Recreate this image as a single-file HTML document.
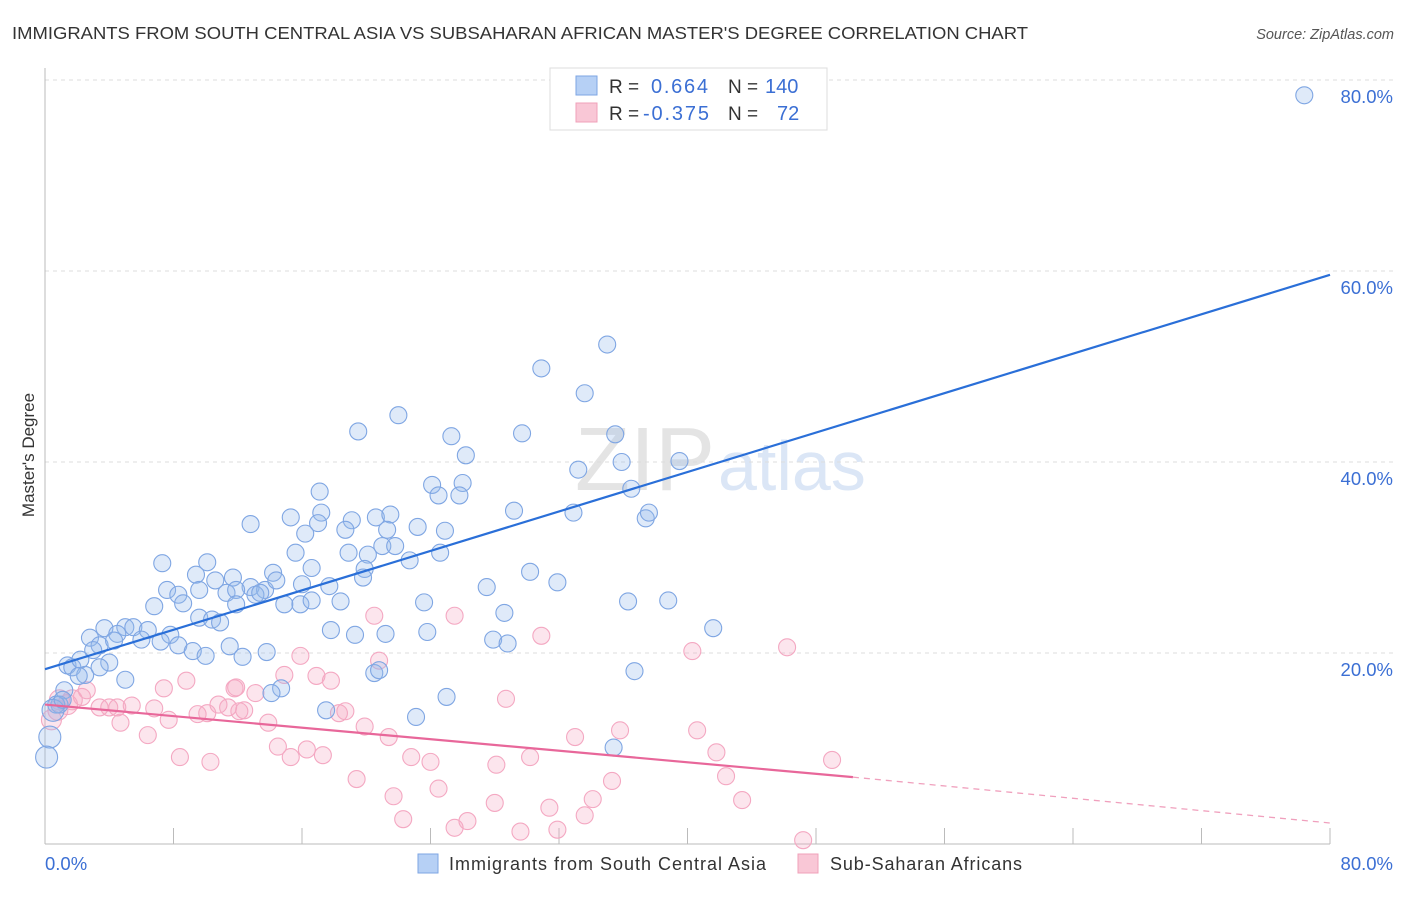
<!DOCTYPE html>
<html><head><meta charset="utf-8"><style>
body{margin:0;background:#fff;font-family:"Liberation Sans",sans-serif;}
svg text{font-family:"Liberation Sans",sans-serif;}
</style></head><body>
<svg id="chart" width="1406" height="892" xmlns="http://www.w3.org/2000/svg">
<text x="12" y="39" font-size="17.5" fill="#333" textLength="1016" lengthAdjust="spacingAndGlyphs">IMMIGRANTS FROM SOUTH CENTRAL ASIA VS SUBSAHARAN AFRICAN MASTER'S DEGREE CORRELATION CHART</text>
<text x="1394" y="39" font-size="14.5" fill="#555" font-style="italic" text-anchor="end">Source: ZipAtlas.com</text>
<text x="715" y="490" font-size="90" fill="#e4e4e4" text-anchor="end" font-family="Liberation Serif">ZIP</text>
<text x="718" y="490" font-size="70" fill="#dbe6f6">atlas</text>
<g id="grid"></g>
<g id="marks"></g>
<text x="34" y="455" font-size="17" fill="#333" text-anchor="middle" transform="rotate(-90 34 455)">Master's Degree</text>
<g>
<rect x="550" y="68" width="277" height="62" fill="#fff" stroke="#ddd"/>
<rect x="576" y="76" width="21" height="19" fill="#b6d0f5" stroke="#7ea6e3"/>
<rect x="576" y="103" width="21" height="19" fill="#f9c7d6" stroke="#f0a0b9"/>
<text x="609" y="93" font-size="19" fill="#333">R = </text>
<text x="651" y="93" font-size="20" fill="#3b6fd4" textLength="57">0.664</text>
<text x="728" y="93" font-size="19" fill="#333">N = </text>
<text x="765" y="93" font-size="20" fill="#3b6fd4">140</text>
<text x="609" y="120" font-size="19" fill="#333">R = </text>
<text x="643" y="120" font-size="20" fill="#3b6fd4" textLength="66">-0.375</text>
<text x="728" y="120" font-size="19" fill="#333">N = </text>
<text x="777" y="120" font-size="20" fill="#3b6fd4">72</text>
</g>
<g>
<rect x="418" y="854" width="20" height="19" fill="#b6d0f5" stroke="#7ea6e3"/>
<text x="449" y="870" font-size="18" fill="#333" textLength="317">Immigrants from South Central Asia</text>
<rect x="798" y="854" width="20" height="19" fill="#f9c7d6" stroke="#f0a0b9"/>
<text x="830" y="870" font-size="18" fill="#333" textLength="192">Sub-Saharan Africans</text>
</g>
</svg>
<script>
const blueX=[78.4,35.0,30.9,33.6,22.0,19.5,25.3,29.7,35.5,26.2,39.5,35.9,33.2,24.1,26.0,17.1,24.5,25.8,36.5,29.2,32.9,37.4,37.6,12.8,15.3,17.2,17.0,19.1,20.6,21.5,16.2,18.7,21.3,23.2,24.9,15.6,18.9,20.1,21.0,21.8,22.7,24.6,7.3,10.1,16.6,19.9,19.8,14.2,30.2,31.9,27.5,9.4,10.6,11.7,12.8,13.7,14.4,7.6,8.3,8.6,9.6,11.3,11.9,13.1,13.4,16.0,17.7,6.8,11.9,14.9,15.9,16.6,18.4,23.6,28.6,36.3,38.8,9.6,10.4,10.9,3.7,5.0,5.5,6.4,7.8,4.5,2.8,3.4,4.3,6.0,7.2,8.3,9.2,10.0,11.5,13.8,12.3,17.8,19.3,21.2,23.8,27.9,28.8,41.6,1.4,1.7,2.2,3.0,4.0,3.4,2.5,2.1,5.0,1.2,0.9,0.7,36.7,20.5,20.8,14.7,14.1,25.0,17.5,23.1,35.4,0.3,0.1,0.5,1.1];
const blueY=[78.4,52.3,49.8,47.2,44.9,43.2,42.7,43.0,42.9,40.7,40.1,40.0,39.2,37.6,37.8,36.9,36.5,36.5,37.2,34.9,34.7,34.1,34.7,33.5,34.2,34.7,33.6,33.9,34.2,34.5,32.5,32.9,32.9,33.2,32.8,30.5,30.5,30.3,31.2,31.2,29.7,30.5,29.4,29.5,28.9,28.8,27.9,28.4,28.5,27.4,26.9,28.2,27.6,27.9,26.9,26.6,27.6,26.6,26.1,25.2,26.6,26.3,26.6,26.1,26.3,27.2,27.0,24.9,25.1,25.1,25.1,25.5,25.4,25.3,24.2,25.4,25.5,23.7,23.5,23.2,22.6,22.7,22.7,22.4,21.9,22.0,21.6,20.8,21.3,21.4,21.2,20.8,20.2,19.7,20.7,20.1,19.6,22.4,21.9,22.0,22.2,21.4,21.0,22.6,18.7,18.5,19.3,20.3,19.0,18.5,17.7,17.6,17.2,16.1,14.6,14.6,18.1,17.9,18.2,16.3,15.8,15.4,14.0,13.3,10.1,11.2,9.1,14.0,15.1];
const pinkX=[0.9,0.8,0.4,2.6,2.3,1.7,1.4,3.4,4.5,4.0,5.4,4.7,6.4,7.4,8.8,9.5,10.1,10.8,11.4,12.1,11.8,13.1,11.9,12.4,6.8,7.7,8.4,10.3,13.9,14.5,15.3,15.9,14.9,16.3,16.9,17.3,17.8,18.3,18.7,19.9,20.5,20.8,19.4,21.4,21.7,22.3,22.8,24.0,24.5,25.5,26.3,28.0,28.1,28.7,30.2,29.6,30.9,31.4,31.9,33.0,33.6,34.1,35.3,35.8,40.3,40.6,41.8,42.4,43.4,46.2,47.2,49.0,25.5];
const pinkY=[15.1,14.0,13.0,16.1,15.4,15.1,14.6,14.3,14.3,14.3,14.5,12.7,11.4,16.3,17.1,13.6,13.7,14.6,14.3,13.9,16.3,15.8,16.4,14.0,14.2,13.0,9.1,8.6,12.7,10.2,9.1,19.7,17.7,9.9,17.6,9.3,17.1,13.7,13.9,12.3,23.9,19.2,6.8,11.2,5.0,2.6,9.1,8.6,5.8,1.7,2.4,4.3,8.3,15.2,9.1,1.3,21.8,3.8,1.5,11.2,3.0,4.7,6.6,11.9,20.2,11.9,9.6,7.1,4.6,20.6,0.4,8.8,23.9];
const blueTrendX=[0,80], blueTrendY=[18.3,59.6];
const pinkTrendX=[0,50.3,80], pinkTrendY=[14.6,7.0,2.2];
const yTicks=[20,40,60,80];
const yTickLabels=["20.0%","40.0%","60.0%","80.0%"];
const xTickVals=[0,8,16,24,32,40,48,56,64,72,80];
const xs=v=>45+v*(1285/80);
const ys=v=>844-v*(764/80);
const NS="http://www.w3.org/2000/svg";
const grid=document.getElementById('grid'), marks=document.getElementById('marks');
function mk(tag,attrs,parent){const e=document.createElementNS(NS,tag);for(const k in attrs)e.setAttribute(k,attrs[k]);parent.appendChild(e);return e;}
yTicks.forEach((t,i)=>{
  const l=mk('line',{x1:45,x2:1395,y1:ys(t),y2:ys(t),stroke:'#ddd','stroke-dasharray':'4 4'},grid);
  
  
  const tx=mk('text',{x:1393,y:ys(t)+23,'font-size':18.5,fill:'#3b6fd4','text-anchor':'end'},grid);
  tx.textContent=yTickLabels[i];
  
  
});
const ax=mk('line',{x1:45,x2:1330,y1:844,y2:844,stroke:'#bbb'},grid);


const ayl=mk('line',{x1:45,x2:45,y1:68,y2:844,stroke:'#bbb'},grid);


xTickVals.forEach(t=>{
  const l=mk('line',{x1:xs(t),x2:xs(t),y1:828,y2:844,stroke:'#bbb'},grid);
  
  
});
const x0=mk('text',{x:45,y:870,'font-size':18.5,fill:'#3b6fd4'},grid);x0.textContent='0.0%';


const x1=mk('text',{x:1393,y:870,'font-size':18.5,fill:'#3b6fd4','text-anchor':'end'},grid);x1.textContent='80.0%';


pinkX.forEach((v,i)=>{
  const c=mk('circle',{cx:xs(v),cy:ys(pinkY[i]),r:(v<2?10:8.5),fill:'rgba(246,170,196,0.3)',stroke:'#f4a8c2','stroke-width':1.1},marks);
  
  
});
blueX.forEach((v,i)=>{
  const c=mk('circle',{cx:xs(v),cy:ys(blueY[i]),r:(v<0.6?11:8.5),fill:'rgba(150,185,235,0.3)',stroke:'#7fa6e3','stroke-width':1.1},marks);
  
  
});
const bl=mk('line',{x1:xs(blueTrendX[0]),y1:ys(blueTrendY[0]),x2:xs(blueTrendX[1]),y2:ys(blueTrendY[1]),stroke:'#2a6fd8','stroke-width':2.2},marks);


const pl=mk('line',{x1:xs(pinkTrendX[0]),y1:ys(pinkTrendY[0]),x2:xs(pinkTrendX[1]),y2:ys(pinkTrendY[1]),stroke:'#e8679a','stroke-width':2.2},marks);


const pd=mk('line',{x1:xs(pinkTrendX[1]),y1:ys(pinkTrendY[1]),x2:xs(pinkTrendX[2]),y2:ys(pinkTrendY[2]),stroke:'#f0a0bd','stroke-width':1.3,'stroke-dasharray':'6 5'},marks);


</script>
</body></html>
